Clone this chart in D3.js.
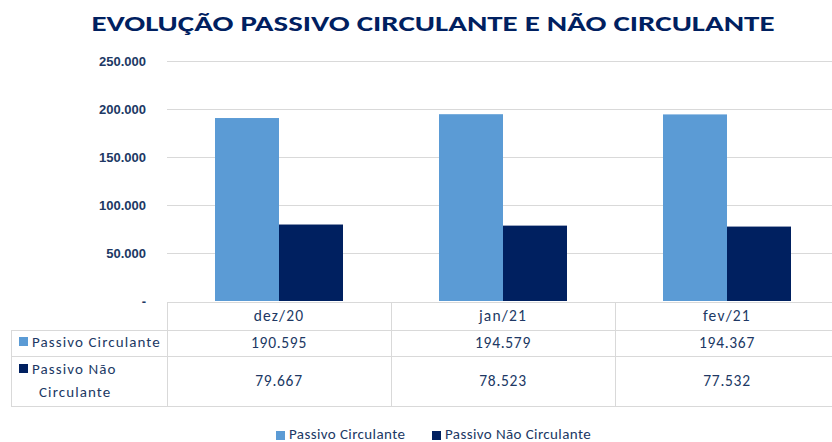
<!DOCTYPE html>
<html>
<head>
<meta charset="utf-8">
<script src="https://cdn.jsdelivr.net/npm/d3@7"></script>
<style>
  body { margin: 0; background: #fff; }
  svg { font-family: Carlito, Calibri, Lato, 'Open Sans', sans-serif; }
  .title { font-weight: bold; fill: #002060; }
  .tick text { fill: #203864; font-size: 13px; font-weight: bold; }
  .cell { fill: #203864; }
</style>
</head>
<body>
<svg width="832" height="442"></svg>
<script>
  const categories = ['dez/20', 'jan/21', 'fev/21'];
  const seriesNames = ['Passivo Circulante', 'Passivo Não Circulante'];
  const circulante = [190595, 194579, 194367];
  const naoCirculante = [79667, 78523, 77532];
  const yTicks = [0, 50000, 100000, 150000, 200000, 250000];
  const colors = ['#5b9bd5', '#002060'];

  const series = [circulante, naoCirculante];

  const svg = d3.select('svg');
  const plotLeft = 167, plotRight = 839, plotTop = 61, plotBottom = 301;

  const fmt = (v) => v === 0 ? '-' : d3.format(',')(v).replace(/,/g, '.');

  svg.append('text')
    .attr('class', 'title')
    .attr('x', 433)
    .attr('y', 31)
    .attr('text-anchor', 'middle')
    .style('font-size', '23px')
    .attr('textLength', 683)
    .attr('lengthAdjust', 'spacingAndGlyphs')
    .text('EVOLUÇÃO PASSIVO CIRCULANTE E NÃO CIRCULANTE');

  const xScale = d3.scaleBand()
    .domain(categories)
    .range([plotLeft, plotRight]);

  const xInner = d3.scaleBand()
    .domain(d3.range(series.length))
    .range([0, xScale.bandwidth()])
    .paddingOuter(0.75);

  const yScale = d3.scaleLinear()
    .domain([0, 250000])
    .range([plotBottom, plotTop]);

  // grid
  svg.append('g')
    .attr('class', 'grid')
    .selectAll('line')
    .data(yTicks.slice(1))
    .enter()
    .append('line')
    .attr('x1', plotLeft)
    .attr('x2', 832)
    .attr('y1', (d) => Math.round(yScale(d)) + 0.5)
    .attr('y2', (d) => Math.round(yScale(d)) + 0.5)
    .attr('stroke', '#d9d9d9');

  const yAxis = svg.append('g')
    .attr('transform', `translate(${plotLeft - 18}, 0)`)
    .call(d3.axisLeft(yScale).tickValues(yTicks).tickSize(0).tickFormat(fmt));
  yAxis.select('.domain').remove();
  yAxis.selectAll('text').attr('dy', '0.32em');

  // bars
  series.forEach((vals, si) => {
    svg.append('g')
      .selectAll('rect')
      .data(vals)
      .enter()
      .append('rect')
      .attr('x', (d, i) => xScale(categories[i]) + xInner(si))
      .attr('y', (d) => yScale(d))
      .attr('width', xInner.bandwidth())
      .attr('height', (d) => yScale(0) - yScale(d))
      .attr('fill', colors[si]);
  });

  // data table
  const rowY = [302, 330, 356, 406];
  const tableLeft = 11;
  const table = svg.append('g').attr('stroke', '#d9d9d9').attr('fill', 'none');
  // horizontal lines
  table.append('line').attr('x1', plotLeft).attr('x2', 832).attr('y1', rowY[0] + 0.5).attr('y2', rowY[0] + 0.5);
  rowY.slice(1).forEach((y) => {
    table.append('line').attr('x1', tableLeft).attr('x2', 832).attr('y1', y + 0.5).attr('y2', y + 0.5);
  });
  // vertical lines
  table.append('line').attr('x1', tableLeft + 0.5).attr('x2', tableLeft + 0.5).attr('y1', rowY[1]).attr('y2', rowY[3]);
  categories.forEach((c) => {
    const x = Math.round(xScale(c)) + 0.5;
    table.append('line').attr('x1', x).attr('x2', x).attr('y1', rowY[0]).attr('y2', rowY[3]);
  });

  // header
  svg.append('g')
    .selectAll('text')
    .data(categories)
    .enter()
    .append('text')
    .attr('class', 'cell')
    .attr('x', (d) => xScale(d) + xScale.bandwidth() / 2)
    .attr('y', (rowY[0] + rowY[1]) / 2 + 5)
    .attr('text-anchor', 'middle')
    .style('font-size', '15.5px')
    .style('letter-spacing', '1.2px')
    .text((d) => d);

  series.forEach((vals, si) => {
    const yMid = (rowY[si + 1] + rowY[si + 2]) / 2 + 5;
    svg.append('g')
      .selectAll('text')
      .data(vals)
      .enter()
      .append('text')
      .attr('class', 'cell')
      .attr('x', (d, i) => xScale(categories[i]) + xScale.bandwidth() / 2)
      .attr('y', yMid)
      .attr('text-anchor', 'middle')
      .style('font-size', '15.5px')
      .style('letter-spacing', '0.7px')
      .text(fmt);
  });

  // row labels
  const lbl = (x, y, t) => svg.append('text').attr('class', 'cell')
    .attr('x', x).attr('y', y)
    .style('font-size', '15px')
    .style('letter-spacing', '1.1px')
    .text(t);
  svg.append('rect').attr('x', 19).attr('y', 337).attr('width', 9).attr('height', 9).attr('fill', colors[0]);
  lbl(32, 347, seriesNames[0]);
  svg.append('rect').attr('x', 19).attr('y', 364).attr('width', 9).attr('height', 9).attr('fill', colors[1]);
  lbl(32, 374, 'Passivo Não');
  lbl(39, 397, 'Circulante');

  // legend
  const legendX = [276, 432];
  seriesNames.forEach((name, i) => {
    svg.append('rect')
      .attr('x', legendX[i]).attr('y', 431)
      .attr('width', 9).attr('height', 9)
      .attr('fill', colors[i]);
    svg.append('text')
      .attr('class', 'cell')
      .attr('x', legendX[i] + 13)
      .attr('y', 439)
      .style('font-size', '15px')
      .style('letter-spacing', '0.4px')
      .text(name);
  });
</script>
</body>
</html>
